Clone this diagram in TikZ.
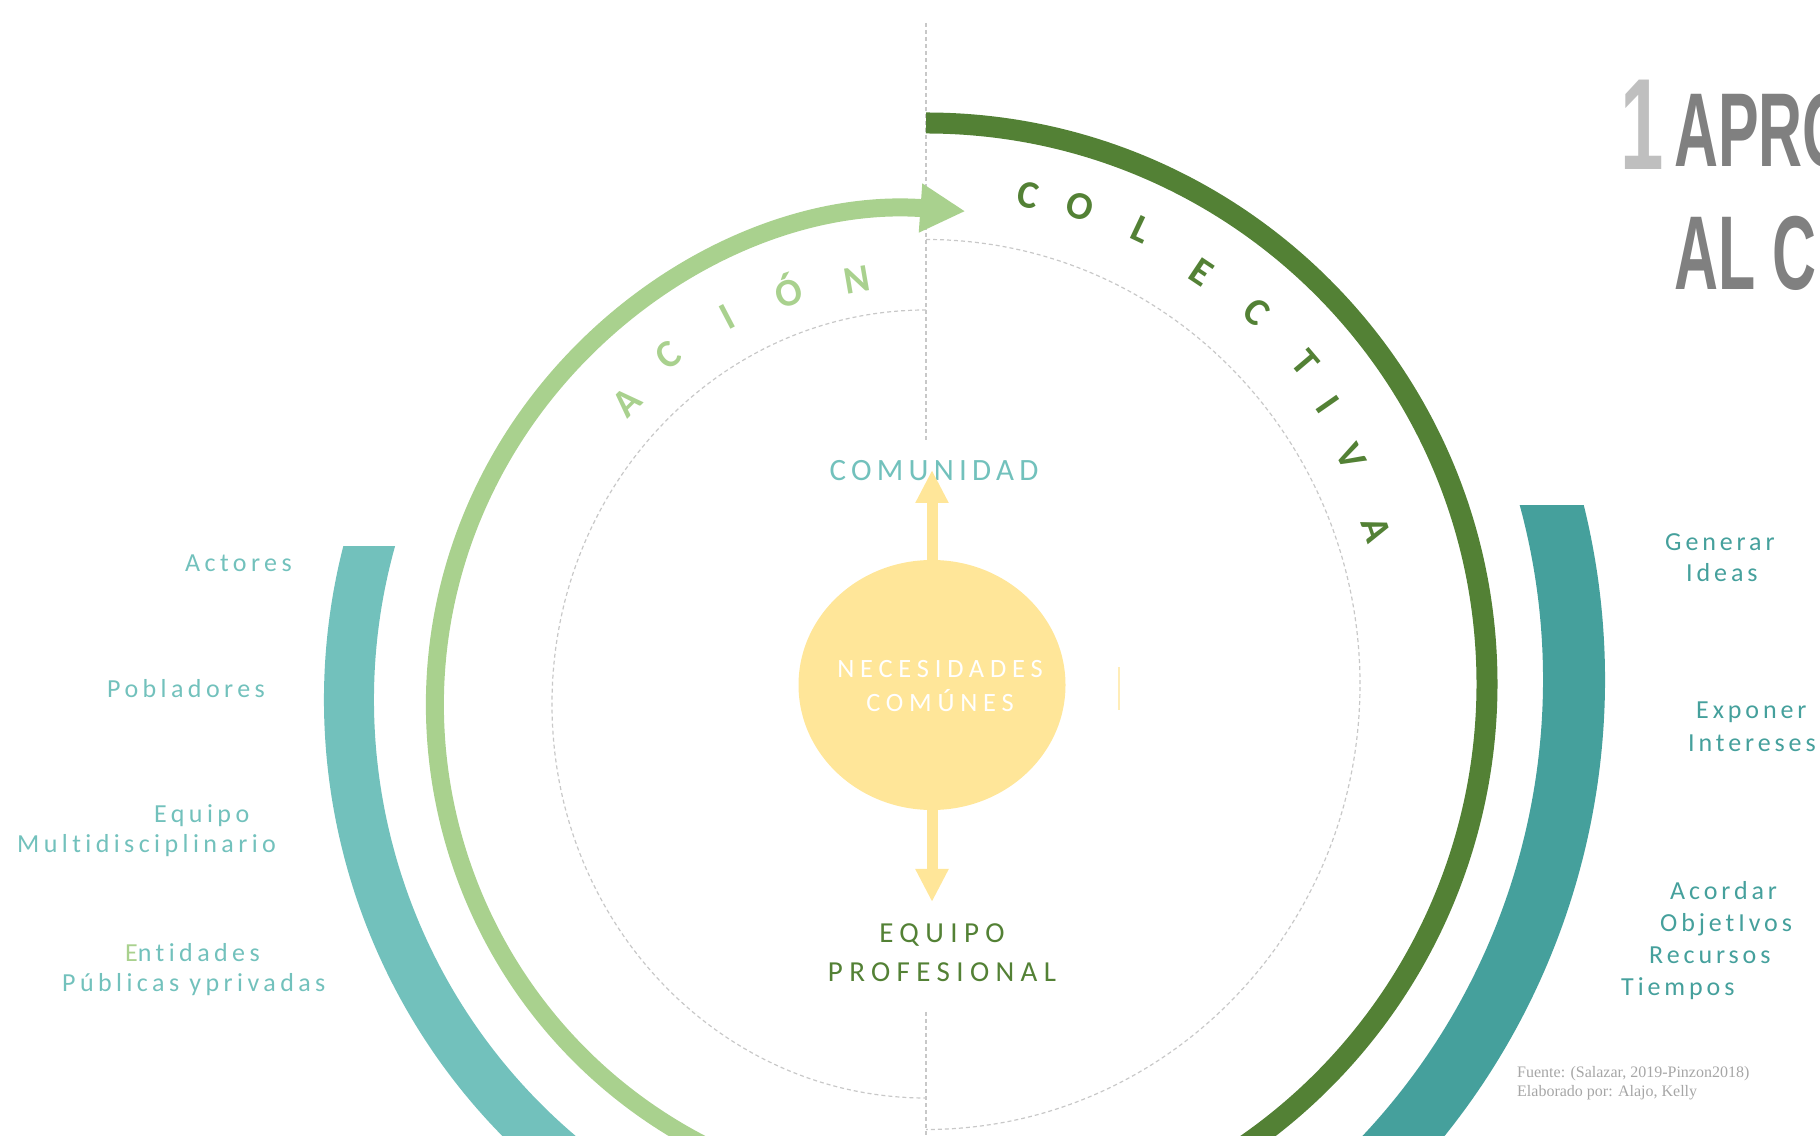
\documentclass[tikz,border=0pt]{standalone}
\usepackage{fontspec}
\setmainfont{Carlito}
\newfontfamily\lblfont[LetterSpace=17,Ligatures=NoCommon]{Carlito}
\newfontfamily\rlblfont[LetterSpace=15,Ligatures=NoCommon]{Carlito}
\newfontfamily\widefont[LetterSpace=22,Ligatures=NoCommon]{Carlito}
\newfontfamily\titlefont{Liberation Sans}
\newfontfamily\notefont{Liberation Serif}
\usetikzlibrary{arrows.meta,shapes.geometric}

\definecolor{darkgreen}{HTML}{538135}
\definecolor{lightgreen}{HTML}{A9D18E}
\definecolor{tealA}{HTML}{72C1BC}
\definecolor{tealB}{HTML}{45A09C}
\definecolor{sand}{HTML}{FFE699}
\definecolor{guidegray}{HTML}{C8C8C8}
\definecolor{titlegray}{HTML}{808080}
\definecolor{numgray}{HTML}{BFBFBF}
\definecolor{notegray}{HTML}{A6A6A6}

\begin{document}
\begin{tikzpicture}[x=1pt,y=1pt,
  guide/.style={guidegray, line width=1.2pt, dash pattern=on 4pt off 3pt},
  sidelabel/.style={anchor=base west, inner sep=0pt, font=\lblfont\fontsize{26}{30}\selectfont},
  rightlabel/.style={sidelabel, text=tealB, font=\rlblfont\fontsize{26}{30}\selectfont},
  midlabel/.style={anchor=base, inner sep=0pt},
  arcletter/.style={inner sep=0pt, font=\bfseries\fontsize{39}{39}\selectfont},
  yarrow/.style={sand, line width=11pt, -{Triangle[length=33pt,width=31pt]}}]

  \useasboundingbox (0,0) rectangle (1820,1135);
  \clip (0,0) rectangle (1820,1135);

  % guide lines
  \draw[guide] (926,1112) -- (926,695);
  \draw[guide] (926,123) -- (926,0);
  \draw[guide] (926,825) arc[start angle=90, end angle=270, x radius=374, y radius=394];
  \draw[guide] (926,895.5) arc[start angle=90, end angle=-90, x radius=434, y radius=445];

  % bands
  \begin{scope}
    \clip (0,0) rectangle (926,588);
    \draw[tealA, line width=50pt] (385,639.2) arc[start angle=160, end angle=235, radius=597];
  \end{scope}
  \begin{scope}
    \clip (926,0) rectangle (1820,629);
    \draw[tealB, line width=62pt] (1508.7,749.6) arc[start angle=25, end angle=-50, radius=697];
  \end{scope}
  \draw[darkgreen, line width=21pt] (926,1012) arc[start angle=90, end angle=-60, radius=561];
  \draw[lightgreen, line width=18pt, -{Triangle[length=45pt,width=46pt]}]
    (720.8,-18.6) arc[start angle=245, end angle=85.9, radius=495];

  % letters on the arcs
  \foreach \ch/\px/\py/\rot [count=\i] in {C/1028/940/-11.8, O/1080/928/-17.9,
      L/1141/905/-25.3, E/1201/863/-33.7, C/1257/823/-41.7, T/1305/772/-49.7,
      I/1328/730/-55.2, V/1351/678/-61.9, A/1376/605/-71.1}
    \node[arcletter, text=darkgreen, rotate=\rot] (col\i) at (\px,\py) {\ch};
  \foreach \ch/\px/\py/\rot [count=\i] in {A/627/733/45, C/668/780/36.8,
      I/727/818/27.6, Ó/788/845/18.8, N/857/855/9.7}
    \node[arcletter, text=lightgreen, rotate=\rot] (acc\i) at (\px,\py) {\ch};

  % centre
  \node[ellipse, fill=sand, minimum width=267pt, minimum height=250pt, inner sep=0pt] (nec) at (932,450) {};
  \node[midlabel, text=white, font=\widefont\fontsize{26.4}{30}\selectfont] (nec1) at (940,457.5) {NECESIDADES};
  \node[midlabel, text=white, font=\widefont\fontsize{26.4}{30}\selectfont] (nec2) at (940,423.5) {COMÚNES};
  \node[midlabel, text=tealA, font=\lblfont\fontsize{31}{31}\selectfont] (com) at (934,654) {COMUNIDAD};
  \node[midlabel, text=darkgreen, font=\widefont\fontsize{29}{33}\selectfont] (equipo) at (942,192) {EQUIPO};
  \node[midlabel, text=darkgreen, font=\widefont\fontsize{29}{33}\selectfont] (prof) at (942,153) {PROFESIONAL};
  \coordinate (comtip) at (932,665);
  \coordinate (eqtip) at (932,233);
  \draw[yarrow] (nec.north) -- (comtip);
  \draw[yarrow] (nec.south) -- (eqtip);
  \draw[sand!70, line width=2pt] (1119,468) -- (1119,425);

  % left labels
  \node[sidelabel, text=tealA] (actores) at (185,563) {Actores};
  \node[sidelabel, text=tealA] (pobladores) at (107,437) {Pobladores};
  \node[sidelabel, text=tealA] (equipoA) at (154,312) {Equipo};
  \node[sidelabel, text=tealA] (multi) at (17,282) {Multidisciplinario};
  \node[sidelabel, text=tealA] (entidades) at (125,173) {{\color{lightgreen}E}ntidades};
  \node[sidelabel, text=tealA] (publicas) at (62,143) {Públicas yprivadas};

  % right labels
  \node[rightlabel] (generar) at (1665,584) {Generar};
  \node[rightlabel] (ideas) at (1686,553) {Ideas};
  \node[rightlabel] (exponer) at (1696,416) {Exponer};
  \node[rightlabel] (intereses) at (1688,383) {Intereses};
  \node[rightlabel] (acordar) at (1670,235) {Acordar};
  \node[rightlabel] (objetivos) at (1660,203) {ObjetIvos};
  \node[rightlabel] (recursos) at (1649,171) {Recursos};
  \node[rightlabel] (tiempos) at (1621,139.5) {Tiempos};

  % title and source
  \node[anchor=base west, inner sep=0pt, text=numgray, font=\titlefont\bfseries\fontsize{130}{130}\selectfont] (num) at (1620,965) {\scalebox{0.6}[1]{1}};
  \node[anchor=base west, inner sep=0pt, text=titlegray, font=\titlefont\bfseries\fontsize{105}{105}\selectfont] (ttl1) at (1674,968) {\scalebox{0.58}[1]{APRO}};
  \node[anchor=base west, inner sep=0pt, text=titlegray, font=\titlefont\bfseries\fontsize{105}{105}\selectfont] (ttl2) at (1674,845) {\scalebox{0.58}[1]{AL C}};
  \node[anchor=base west, inner sep=0pt, text=notegray, font=\notefont\fontsize{16}{20}\selectfont] (src1) at (1517,57) {Fuente: (Salazar, 2019-Pinzon2018)};
  \node[anchor=base west, inner sep=0pt, text=notegray, font=\notefont\fontsize{16}{20}\selectfont] (src2) at (1517,38) {Elaborado por: Alajo, Kelly};
\end{tikzpicture}
\end{document}
